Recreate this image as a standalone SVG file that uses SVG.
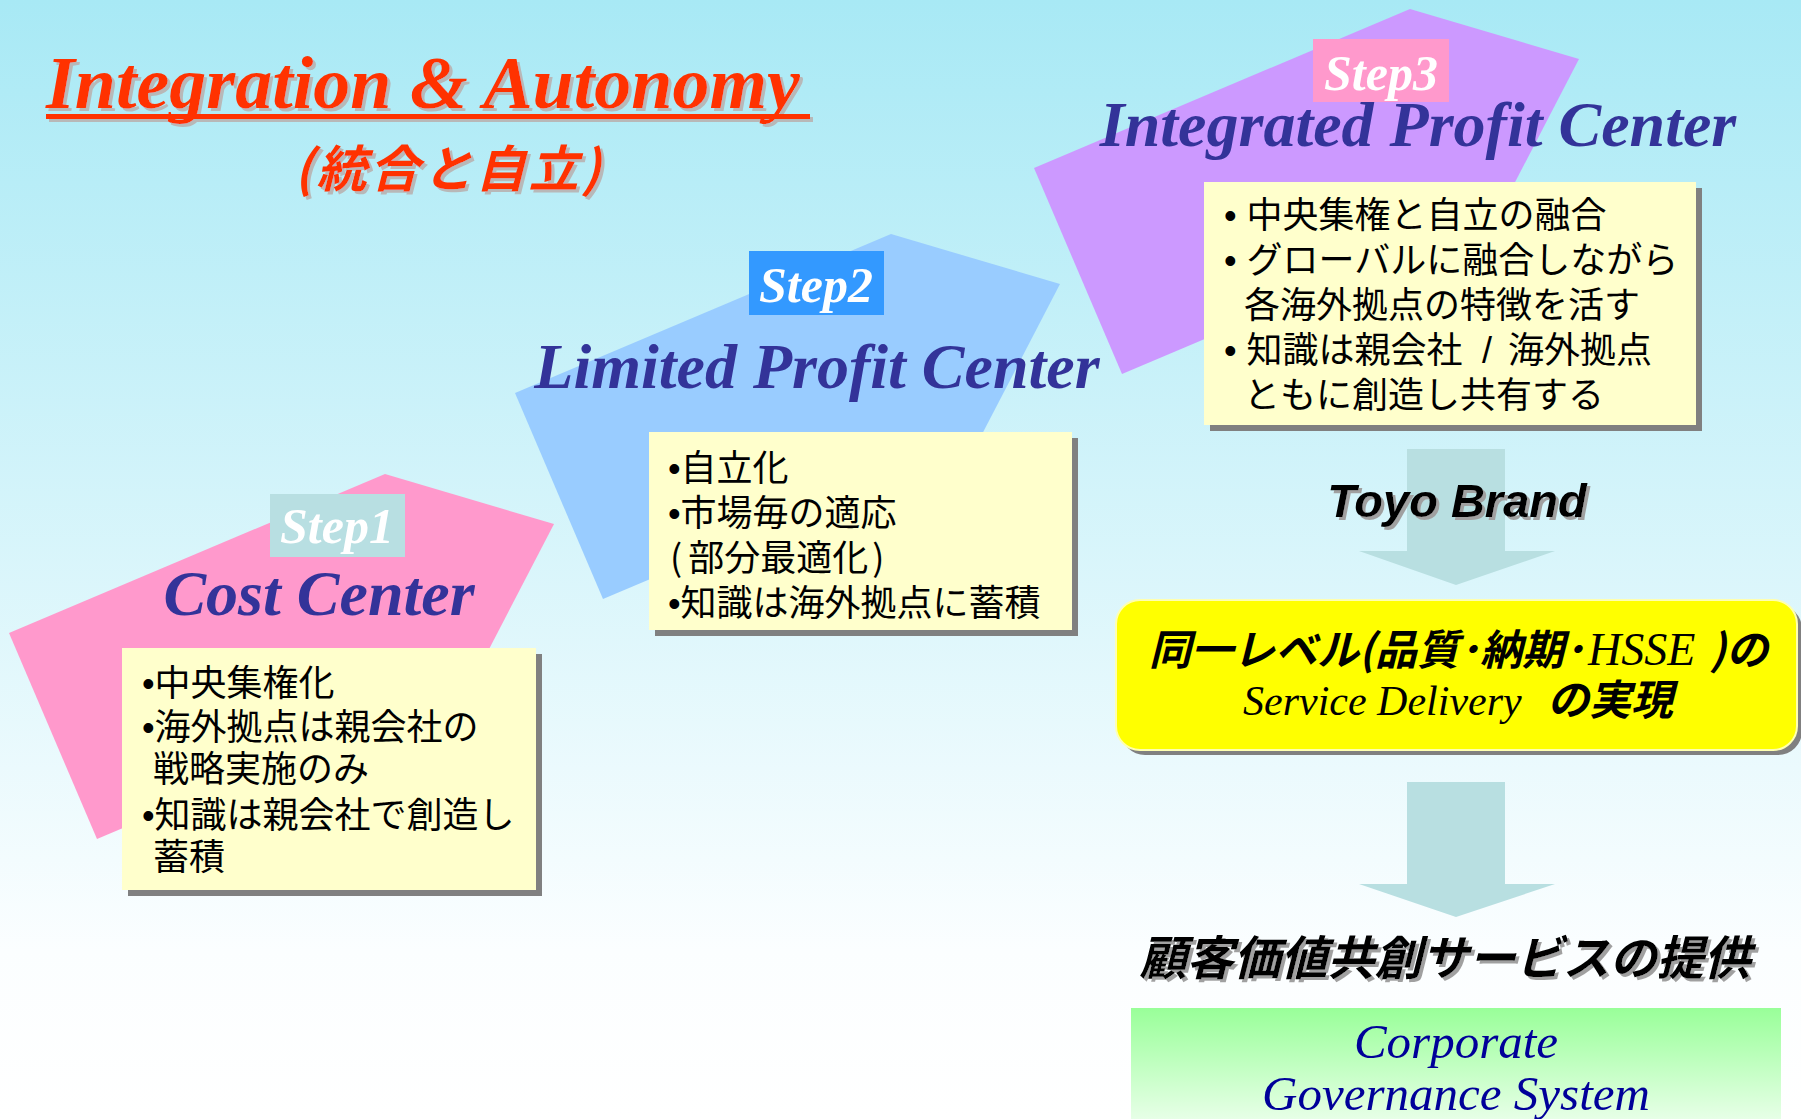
<svg xmlns="http://www.w3.org/2000/svg" width="1801" height="1119" viewBox="0 0 1801 1119">
<defs>
  <linearGradient id="bg" x1="0" y1="0" x2="0" y2="1">
    <stop offset="0" stop-color="#A8E9F5"/>
    <stop offset="0.85" stop-color="#FBFEFF"/>
    <stop offset="1" stop-color="#FFFFFF"/>
  </linearGradient>
  <linearGradient id="green" x1="0" y1="0" x2="0" y2="1">
    <stop offset="0" stop-color="#99FF99"/>
    <stop offset="1" stop-color="#F4FFF4"/>
  </linearGradient>
  <filter id="shTitle" x="-5%" y="-20%" width="110%" height="140%">
    <feDropShadow dx="3" dy="3" stdDeviation="0.4" flood-color="#B8B8B8" flood-opacity="1"/>
  </filter>
  <filter id="shText" x="-5%" y="-20%" width="110%" height="140%">
    <feDropShadow dx="3" dy="3" stdDeviation="0.4" flood-color="#A0A0A0" flood-opacity="1"/>
  </filter>
  <polygon id="penta" points="0,0 376,-159 545,-109 464,47 88,206"/>
  <style>
    .serifBI { font-family: 'Liberation Serif', 'Times New Roman', serif; font-weight: bold; font-style: italic; }
    .serifI { font-family: 'Liberation Serif', 'Times New Roman', serif; font-style: italic; }
    .jp { font-family: 'Noto Sans CJK JP', 'Noto Sans CJK SC', sans-serif; }
    .jpBI { font-family: 'Noto Sans CJK JP', 'Noto Sans CJK SC', sans-serif; font-weight: bold; font-style: italic; }
    .bul { font-family: 'Liberation Sans', Arial, sans-serif; }
    .head { font-size: 64px; fill: #333399; text-anchor: middle; }
    .steplbl { font-size: 50px; fill: #FFFFFF; text-anchor: middle; }
    .note { fill: #FFFFCC; }
    .noteShadow { fill: #808080; }
    .body { font-size: 36px; fill: #000000; }
    .blockArrow { fill: #B8DFE1; }
  </style>
</defs>

<rect id="background" x="0" y="0" width="1801" height="1119" fill="url(#bg)"/>

<g id="title">
  <g filter="url(#shTitle)" fill="#FF3300">
    <text class="serifBI" x="46" y="108" font-size="74">Integration &amp; Autonomy</text>
    <rect x="46" y="114" width="764" height="5"/>
  </g>
  <text class="jpBI" x="449" y="187" font-size="50" letter-spacing="3" fill="#FF3300" text-anchor="middle" filter="url(#shTitle)">(統合と自立)</text>
</g>

<g id="step1">
  <use href="#penta" transform="translate(9,633)" fill="#FF99CC"/>
  <rect x="270" y="494" width="135" height="63" fill="#B8DFE2"/>
  <text class="serifBI steplbl" x="337" y="543">Step1</text>
  <text class="serifBI head" x="319" y="615">Cost Center</text>
  <rect class="noteShadow" x="128" y="654" width="414" height="242"/>
  <rect class="note" x="122" y="648" width="414" height="242"/>
  <g class="jp body">
    <text x="142" y="696"><tspan class="bul">•</tspan>中央集権化</text>
    <text x="142" y="740"><tspan class="bul">•</tspan>海外拠点は親会社の</text>
    <text x="153" y="782">戦略実施のみ</text>
    <text x="142" y="828"><tspan class="bul">•</tspan>知識は親会社で創造し</text>
    <text x="153" y="870">蓄積</text>
  </g>
</g>

<g id="step2">
  <use href="#penta" transform="translate(515,393)" fill="#99CCFF"/>
  <rect x="749" y="251" width="135" height="64" fill="#3399FF"/>
  <text class="serifBI steplbl" x="816" y="302">Step2</text>
  <text class="serifBI head" x="817" y="388">Limited Profit Center</text>
  <rect class="noteShadow" x="655" y="438" width="423" height="198"/>
  <rect class="note" x="649" y="432" width="423" height="198"/>
  <g class="jp body">
    <text x="668" y="481"><tspan class="bul">•</tspan>自立化</text>
    <text x="668" y="526"><tspan class="bul">•</tspan>市場毎の適応</text>
    <text x="670" y="571">(<tspan dx="6">部分最適化</tspan><tspan dx="4">)</tspan></text>
    <text x="668" y="616"><tspan class="bul">•</tspan>知識は海外拠点に蓄積</text>
  </g>
</g>

<g id="step3">
  <use href="#penta" transform="translate(1034,168)" fill="#CC99FF"/>
  <rect x="1313" y="39" width="136" height="63" fill="#FF99CC"/>
  <text class="serifBI steplbl" x="1381" y="90">Step3</text>
  <text class="serifBI head" x="1418" y="146">Integrated Profit Center</text>
  <rect class="noteShadow" x="1210" y="188" width="492" height="243"/>
  <rect class="note" x="1204" y="182" width="492" height="243"/>
  <g class="jp body">
    <text x="1224" y="228"><tspan class="bul">• </tspan>中央集権と自立の融合</text>
    <text x="1224" y="273"><tspan class="bul">• </tspan>グローバルに融合しながら</text>
    <text x="1244" y="318">各海外拠点の特徴を活す</text>
    <text x="1224" y="363"><tspan class="bul">• </tspan>知識は親会社<tspan class="bul" x="1482">/</tspan><tspan x="1508">海外拠点</tspan></text>
    <text x="1244" y="408">ともに創造し共有する</text>
  </g>
</g>

<g id="connectors">
  <polygon class="blockArrow" points="1407,449 1505,449 1505,551 1555,551 1456,585 1359,551 1407,551"/>
  <polygon class="blockArrow" points="1407,782 1505,782 1505,884 1555,884 1456,917 1359,884 1407,884"/>
</g>

<g id="toyo-brand">
  <text x="1457" y="517" font-family="'Liberation Sans', Arial, sans-serif" font-weight="bold" font-style="italic" font-size="47" fill="#000000" text-anchor="middle" filter="url(#shText)">Toyo Brand</text>
</g>

<g id="service-delivery">
  <rect x="1121" y="605" width="681" height="150" rx="24" fill="#808080"/>
  <rect x="1116" y="600" width="681" height="150" rx="24" fill="#FFFF00" stroke="#FFFFB0" stroke-width="2"/>
  <text y="665" font-size="42" fill="#000000"><tspan class="jpBI" x="1149">同一レベル(品質･納期･</tspan><tspan class="serifI" x="1588" font-size="46">HSSE</tspan><tspan class="jpBI" x="1710">)の</tspan></text>
  <text y="715" font-size="42" fill="#000000"><tspan class="serifI" x="1243">Service Delivery</tspan><tspan class="jpBI" x="1547">の実現</tspan></text>
</g>

<g id="customer-value">
  <text class="jpBI" x="1445" y="975" font-size="47" fill="#000000" text-anchor="middle" filter="url(#shText)">顧客価値共創サービスの提供</text>
</g>

<g id="governance">
  <rect x="1131" y="1008" width="650" height="130" fill="url(#green)"/>
  <text class="serifI" x="1456" y="1058" font-size="49" fill="#000099" text-anchor="middle">Corporate</text>
  <text class="serifI" x="1456" y="1110" font-size="49" fill="#000099" text-anchor="middle">Governance System</text>
</g>
</svg>
